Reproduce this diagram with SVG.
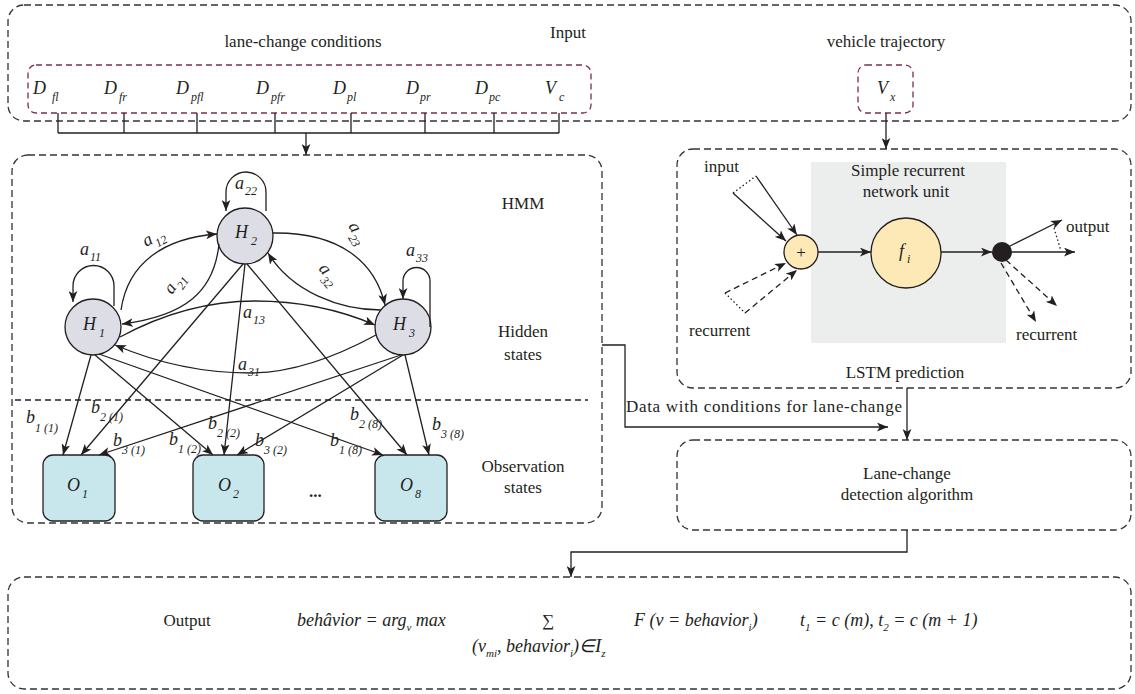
<svg xmlns="http://www.w3.org/2000/svg" width="1135" height="694" viewBox="0 0 1135 694">
<style>
.box{fill:none;stroke:#333;stroke-width:1.3;stroke-dasharray:7 4}
.ibox{fill:none;stroke:#7a3040;stroke-width:1.3;stroke-dasharray:6 4}
.ln{fill:none;stroke:#231f20;stroke-width:1.3}
.arr{marker-end:url(#ah)}
.dash{stroke-dasharray:6 4}
.dot{stroke-dasharray:1.5 2.5}
.t{font-family:"Liberation Serif","Times New Roman",serif;font-size:17px;fill:#231f20}
.c{text-anchor:middle}
.m{font-family:"Liberation Serif","Times New Roman",serif;font-style:italic;font-size:18px;fill:#231f20}
.s{font-family:"Liberation Serif","Times New Roman",serif;font-style:italic;font-size:12px;fill:#231f20}
.hc{fill:#dddde6;stroke:#231f20;stroke-width:1.3}
.ob{fill:#c8e7ec;stroke:#231f20;stroke-width:1.3}
.yc{fill:#fde9b5;stroke:#231f20;stroke-width:1.3}
</style>
<defs>
<marker id="ah" viewBox="0 0 10 8" refX="10" refY="4" markerWidth="11" markerHeight="9" markerUnits="userSpaceOnUse" orient="auto">
<path d="M0,0 L10,4 L0,8 L2.5,4 z" fill="#231f20"/>
</marker>
</defs>
<rect width="1135" height="694" fill="#ffffff"/>

<!-- Input -->
<g id="input">
<rect class="box" x="8" y="5" width="1123" height="116" rx="16"/>
<text class="t" x="550" y="38">Input</text>
<text class="t c" x="303" y="47">lane-change conditions</text>
<text class="t c" x="886" y="47">vehicle trajectory</text>
</g>
<g id="conditions">
<rect class="ibox" x="28" y="65" width="563" height="48" rx="8"/>
<text class="m" x="33" y="94">D</text><text class="s" x="52" y="101">fl</text>
<text class="m" x="104" y="94">D</text><text class="s" x="119" y="101">fr</text>
<text class="m" x="176" y="94">D</text><text class="s" x="191" y="101">pfl</text>
<text class="m" x="256" y="94">D</text><text class="s" x="271" y="101">pfr</text>
<text class="m" x="333" y="94">D</text><text class="s" x="347" y="101">pl</text>
<text class="m" x="406" y="94">D</text><text class="s" x="420" y="101">pr</text>
<text class="m" x="475" y="94">D</text><text class="s" x="489" y="101">pc</text>
<text class="m" x="545" y="94">V</text><text class="s" x="559" y="101">c</text>
</g>
<g id="vx">
<rect class="ibox" x="858" y="65" width="55" height="48" rx="8"/>
<text class="m" x="877" y="94">V</text><text class="s" x="890" y="101">x</text>
</g>

<!-- HMM -->
<g id="hmm">
<rect class="box" x="12" y="155" width="590" height="368" rx="16"/>
<line class="ln dash" x1="15" y1="400" x2="588" y2="400"/>
<text class="t c" x="523" y="209">HMM</text>
<text class="t c" x="523" y="337">Hidden</text>
<text class="t c" x="523" y="360">states</text>
<text class="t c" x="523" y="472">Observation</text>
<text class="t c" x="523" y="493">states</text>
<text class="t" x="309" y="497" font-weight="bold">...</text>
</g>
<g id="H1"><circle class="hc" cx="93" cy="327" r="28"/><text class="m" x="83" y="330">H</text><text class="s" x="99" y="337">1</text></g>
<g id="H2"><circle class="hc" cx="245" cy="236" r="28"/><text class="m" x="235" y="238">H</text><text class="s" x="251" y="245">2</text></g>
<g id="H3"><circle class="hc" cx="403" cy="327" r="28"/><text class="m" x="393" y="330">H</text><text class="s" x="409" y="337">3</text></g>
<g id="O1"><rect class="ob" x="43" y="455" width="72" height="66" rx="10"/><text class="m" x="67" y="491">O</text><text class="s" x="82" y="498">1</text></g>
<g id="O2"><rect class="ob" x="193" y="455" width="71" height="66" rx="10"/><text class="m" x="218" y="491">O</text><text class="s" x="233" y="498">2</text></g>
<g id="O8"><rect class="ob" x="375" y="455" width="72" height="66" rx="10"/><text class="m" x="400" y="491">O</text><text class="s" x="415" y="498">8</text></g>

<!-- LSTM -->
<g id="lstm">
<rect class="box" x="677" y="149" width="454" height="239" rx="16"/>
<rect x="811" y="162" width="195" height="181" fill="#eceded"/>
<text class="t c" x="908" y="176">Simple recurrent</text>
<text class="t c" x="906" y="197">network unit</text>
<text class="t" x="704" y="172">input</text>
<text class="t" x="689" y="336">recurrent</text>
<text class="t" x="1066" y="232">output</text>
<text class="t" x="1016" y="340">recurrent</text>
<text class="t c" x="905" y="378">LSTM prediction</text>
</g>
<g id="plus"><circle class="yc" cx="801" cy="252" r="17"/><text class="t c" x="801" y="258" font-size="15">+</text></g>
<g id="fi"><circle class="yc" cx="906" cy="253" r="35"/><text class="m" x="899" y="257">f</text><text class="s" x="907" y="263">i</text></g>
<g id="dotnode"><circle cx="1002" cy="252" r="10" fill="#231f20"/></g>

<!-- Lane-change detection -->
<g id="lanechange">
<rect class="box" x="677" y="440" width="454" height="90" rx="16"/>
<text class="t c" x="907" y="479">Lane-change</text>
<text class="t c" x="907" y="500">detection algorithm</text>
</g>

<!-- Output -->
<g id="output">
<rect class="box" x="8" y="577" width="1123" height="112" rx="16"/>
<text class="t c" x="187" y="626">Output</text>
<text class="m" x="297" y="626" font-size="16">beha&#770;vior = arg<tspan dy="5" font-size="11">v</tspan><tspan dy="-5"> max</tspan></text>
<text class="t" x="542" y="626" font-size="18">∑</text>
<text class="m" x="472" y="652" font-size="16">(v<tspan dy="5" font-size="11">mi</tspan><tspan dy="-5">, behavior</tspan><tspan dy="5" font-size="11">i</tspan><tspan dy="-5">)∈</tspan><tspan font-size="19">I</tspan><tspan dy="5" font-size="11">z</tspan></text>
<text class="m" x="634" y="626" font-size="16">F (v = behavior<tspan dy="5" font-size="11">i</tspan><tspan dy="-5">)</tspan></text>
<text class="m" x="800" y="626" font-size="16">t<tspan dy="5" font-size="11">1</tspan><tspan dy="-5"> = c (m), t</tspan><tspan dy="5" font-size="11">2</tspan><tspan dy="-5"> = c (m + 1)</tspan></text>
</g>

<!-- Connectors -->
<g id="connectors">
<path class="ln" d="M58,113 V133 M124,113 V133 M197,113 V133 M275,113 V133 M351,113 V133 M425,113 V133 M494,113 V133 M559,113 V133 M58,133 H559"/>
<path class="ln arr" d="M306,133 V155"/>
<path class="ln arr" d="M886,113 V149"/>
<path class="ln arr" d="M602,345 H625 V427 H888"/>
<text class="t" x="626" y="412" textLength="276">Data with conditions for lane-change</text>
<path class="ln arr" d="M907,388 V440"/>
<path class="ln arr" d="M907,530 V552 H571 V577"/>

<!-- self loops -->
<path class="ln arr" d="M114,306 V286 A20.5,20.5 0 0 0 73,286 V302"/>
<path class="ln arr" d="M266,211 V192 A20,20 0 0 0 226,192 V211"/>
<path class="ln arr" d="M430,327 V281 A13.5,13.5 0 0 0 403,281 V299"/>
<!-- transitions -->
<path class="ln arr" d="M121,310 C128,262 165,238 217,234"/>
<path class="ln arr" d="M219,244 C214,292 185,316 122,324"/>
<path class="ln arr" d="M273,233 C340,232 375,262 385,305"/>
<path class="ln arr" d="M381,310 C340,310 292,292 268,253"/>
<path class="ln arr" d="M120,337 C170,310 215,301 255,301 C305,301 345,312 375,325"/>
<path class="ln arr" d="M376,335 C330,360 290,373 250,373 C200,373 155,362 115,345"/>
<!-- emissions -->
<path class="ln arr" d="M91,355 L63,455"/>
<path class="ln arr" d="M95,355 L213,455"/>
<path class="ln arr" d="M99,354 L383,455"/>
<path class="ln arr" d="M243,264 L81,455"/>
<path class="ln arr" d="M245,264 L224,455"/>
<path class="ln arr" d="M247,264 L407,455"/>
<path class="ln arr" d="M401,355 L99,455"/>
<path class="ln arr" d="M403,355 L237,455"/>
<path class="ln arr" d="M405,355 L429,455"/>

<!-- LSTM internals -->
<path class="ln arr" d="M756,176 L797,235"/>
<path class="ln arr" d="M733,193 L786,241"/>
<path class="ln dot" d="M733,193 L756,176"/>
<path class="ln dash arr" d="M725,293 L786,263"/>
<path class="ln dash arr" d="M745,313 L797,270"/>
<path class="ln dot" d="M725,293 L745,313"/>
<path class="ln arr" d="M818,252 H871"/>
<path class="ln arr" d="M941,252 H992"/>
<path class="ln arr" d="M1008,247 L1062,220"/>
<path class="ln arr" d="M1012,252 H1075"/>
<path class="ln dot" d="M1054,228 L1061,251"/>
<path class="ln dash arr" d="M1006,260 L1057,306"/>
<path class="ln dash arr" d="M1001,263 L1036,322"/>
</g>

<!-- edge labels -->
<g id="labels">
<text class="m" x="80" y="255">a</text><text class="s" x="90" y="261">11</text>
<text class="m" x="235" y="189">a</text><text class="s" x="245" y="195">22</text>
<text class="m" x="406" y="256">a</text><text class="s" x="416" y="262">33</text>
<g transform="translate(146,247) rotate(-28)"><text class="m" x="0" y="0">a</text><text class="s" x="10" y="6">12</text></g>
<g transform="translate(172,295) rotate(-55)"><text class="m" x="0" y="0">a</text><text class="s" x="10" y="6">21</text></g>
<g transform="translate(348,226) rotate(60)"><text class="m" x="0" y="0">a</text><text class="s" x="10" y="6">23</text></g>
<g transform="translate(318,269) rotate(50)"><text class="m" x="0" y="0">a</text><text class="s" x="10" y="6">32</text></g>
<text class="m" x="243" y="318">a</text><text class="s" x="253" y="324">13</text>
<text class="m" x="238" y="370">a</text><text class="s" x="248" y="376">31</text>
<text class="m" x="26" y="423">b</text><text class="s" x="35" y="432">1 (1)</text>
<text class="m" x="91" y="413">b</text><text class="s" x="100" y="421">2 (1)</text>
<text class="m" x="113" y="446">b</text><text class="s" x="122" y="454">3 (1)</text>
<text class="m" x="169" y="445">b</text><text class="s" x="178" y="453">1 (2)</text>
<text class="m" x="208" y="429">b</text><text class="s" x="217" y="437">2 (2)</text>
<text class="m" x="255" y="446">b</text><text class="s" x="264" y="454">3 (2)</text>
<text class="m" x="330" y="446">b</text><text class="s" x="339" y="454">1 (8)</text>
<text class="m" x="350" y="420">b</text><text class="s" x="359" y="428">2 (8)</text>
<text class="m" x="432" y="430">b</text><text class="s" x="441" y="438">3 (8)</text>
</g>
</svg>
